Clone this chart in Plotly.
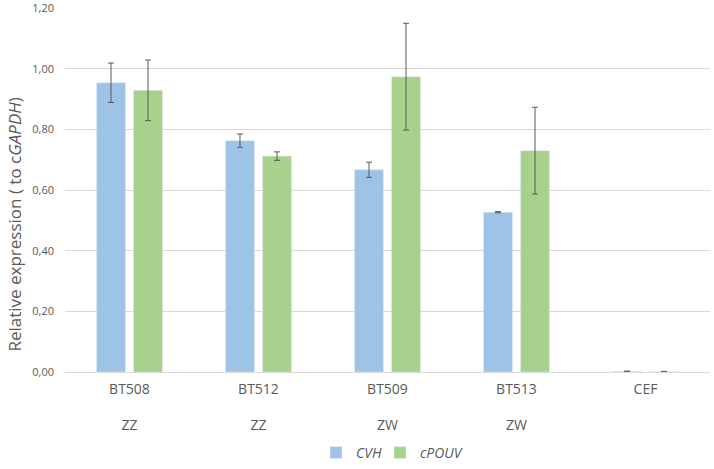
import plotly.graph_objects as go

samples = ["BT508", "BT512", "BT509", "BT513", "CEF"]
sex = ["ZZ", "ZZ", "ZW", "ZW", ""]
cvh = [0.954, 0.763, 0.667, 0.527, 0.002]
cvh_err = [0.065, 0.022, 0.025, 0.002, 0.001]
cpouv = [0.929, 0.712, 0.974, 0.730, 0.001]
cpouv_err = [0.100, 0.014, 0.176, 0.143, 0.001]
yticks = [0, 0.2, 0.4, 0.6, 0.8, 1.0, 1.2]
y_title = "Relative expression ( to c<i>GAPDH</i>)"

ticktext = [f"{s}<br><br>{z}" for s, z in zip(samples, sex)]

fig = go.Figure()
fig.add_trace(go.Bar(
    x=samples, y=cvh, name="<i>CVH</i>", marker_color="#9DC3E6", legend="legend",
    error_y=dict(type="data", array=cvh_err, color="#595959", thickness=1, width=3),
))
fig.add_trace(go.Bar(
    x=samples, y=cpouv, name="<i>cPOUV</i>", marker_color="#A9D18E", legend="legend2",
    error_y=dict(type="data", array=cpouv_err, color="#595959", thickness=1, width=3),
))

fig.add_annotation(
    text=y_title, textangle=-90, xref="paper", yref="paper",
    x=-0.0775, y=0.405, xanchor="center", yanchor="middle", showarrow=False,
    font=dict(size=17, color="#595959"),
)

leg_common = dict(orientation="h", xanchor="left", xref="container",
                  y=0.0, yanchor="bottom", yref="container",
                  font=dict(size=14, color="#595959"), itemwidth=30,
                  bgcolor="rgba(0,0,0,0)")

fig.update_layout(
    width=714, height=469,
    margin=dict(l=65, r=4, t=8, b=97),
    plot_bgcolor="white", paper_bgcolor="white",
    barmode="group", bargap=0.426, bargroupgap=0.216,
    separators=",.",
    font=dict(family="Open Sans, Calibri, sans-serif", color="#595959"),
    showlegend=True,
    legend=dict(x=316 / 714, **leg_common),
    legend2=dict(x=380 / 714, **leg_common),
    xaxis=dict(tickmode="array", tickvals=samples, ticktext=ticktext,
               tickfont=dict(size=14, color="#595959"), showline=True,
               linecolor="#D9D9D9", linewidth=1, ticks="", showgrid=False,
               automargin=False, ticklabelstandoff=4),
    yaxis=dict(range=[0, 1.2005], tickvals=yticks, tickformat=".2f",
               tickfont=dict(size=11, color="#595959"), showgrid=True,
               gridcolor="#D9D9D9", gridwidth=1, zeroline=False, ticks="",
               ticklabelstandoff=10, automargin=False,
               ticklabeloverflow="allow"),
)

fig.write_html("out.html", config={"displayModeBar": False},
               post_script="document.body.style.margin='0';")
